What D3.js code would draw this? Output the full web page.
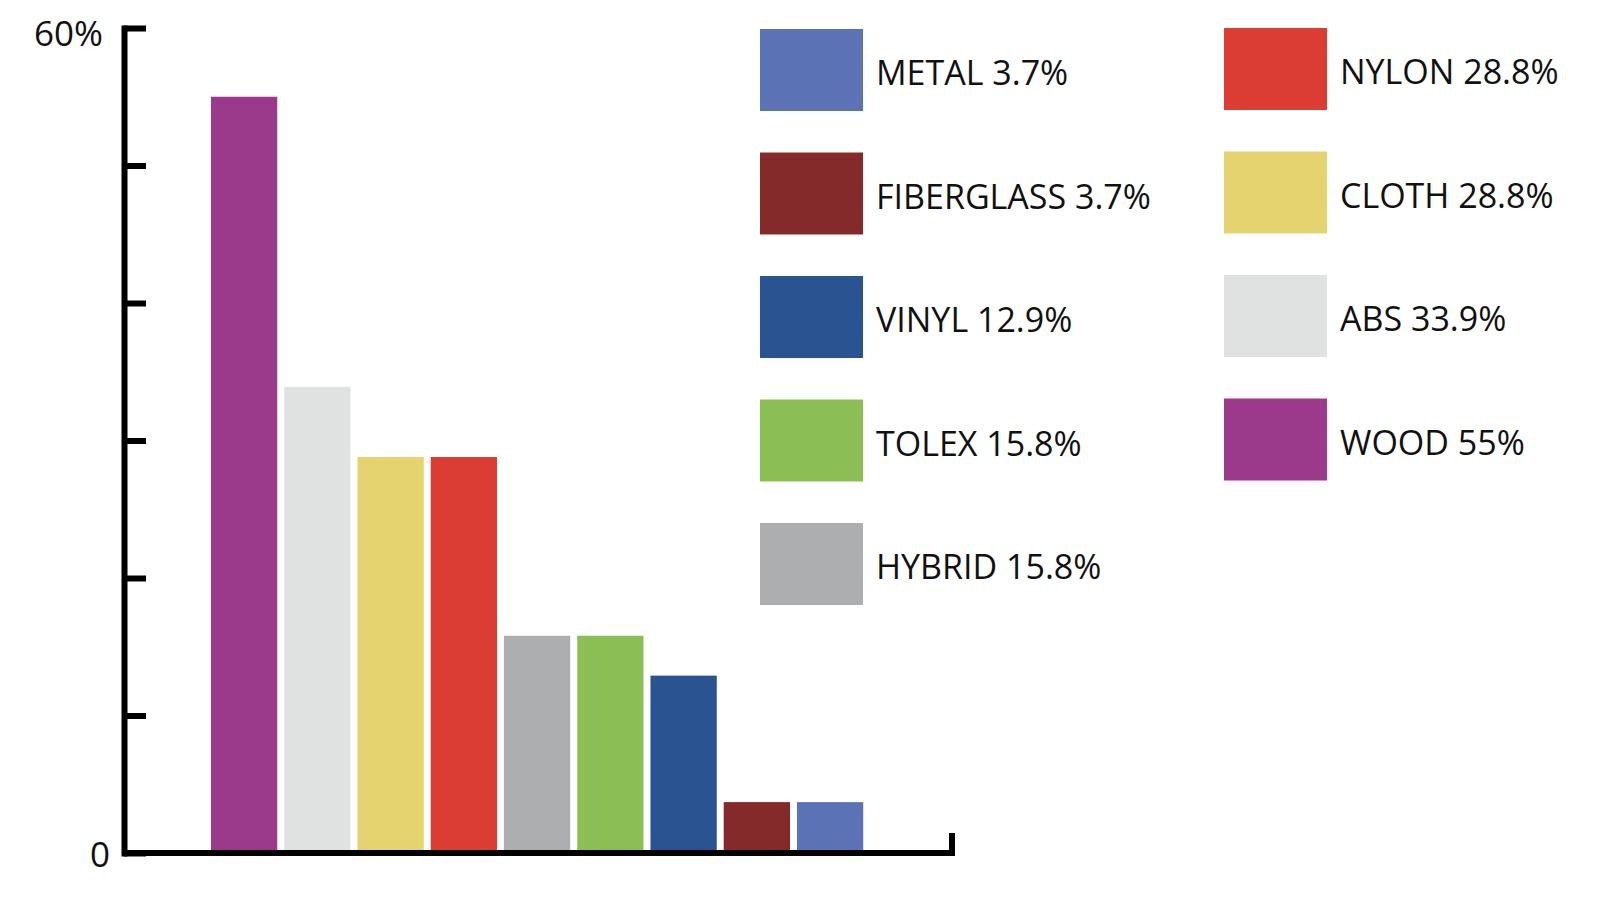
<!DOCTYPE html>
<html>
<head>
<meta charset="utf-8">
<script src="https://cdn.jsdelivr.net/npm/d3@7"></script>
<style>
  body { margin: 0; background: #fff; }
  text { font-family: "Open Sans", "Noto Sans", sans-serif; fill: #111; }
</style>
</head>
<body>
<div id="chart"></div>
<script>
// bar data, sorted as drawn (largest first)
var materials = ["WOOD", "ABS", "CLOTH", "NYLON", "HYBRID", "TOLEX", "VINYL", "FIBERGLASS", "METAL"]
var shares = [55, 33.9, 28.8, 28.8, 15.8, 15.8, 12.9, 3.7, 3.7]
var shareLabels = ["55%", "33.9%", "28.8%", "28.8%", "15.8%", "15.8%", "12.9%", "3.7%", "3.7%"]
var colors = ["#9b3a8b", "#e0e1e1", "#e4d36e", "#db3d32", "#adaeb0", "#8bbf56", "#295391", "#852a2a", "#5b73b4"]

// legend order: two columns, smallest first
var legendLeft = ["METAL", "FIBERGLASS", "VINYL", "TOLEX", "HYBRID"]
var legendRight = ["NYLON", "CLOTH", "ABS", "WOOD"]

var yTicks = [0, 10, 20, 30, 40, 50, 60]
var yTickLabels = { 0: "0", 60: "60%" }

const W = 1600, H = 900

var svg = d3.select('#chart').append('svg')
    .attr('width', W)
    .attr('height', H)

const axisX = 124, axisEnd = 952

const y = d3.scaleLinear().domain([0, 60]).range([853, 28])
const x = d3.scaleBand().domain(materials).range([204, 870.2]).padding(0.095)

// bars
svg.append('g').selectAll('rect')
    .data(materials)
    .enter()
    .append('rect')
    .attr('x', d => x(d))
    .attr('width', x.bandwidth())
    .attr('y', (d, i) => y(shares[i]))
    .attr('height', (d, i) => y(0) - y(shares[i]))
    .attr('fill', (d, i) => colors[i])

// left axis with inward ticks
var yAxis = svg.append('g')
    .attr('transform', `translate(${axisX},0)`)
    .call(d3.axisLeft(y).tickValues(yTicks).tickSizeInner(-22).tickSizeOuter(0)
        .tickPadding(17).tickFormat(d => yTickLabels[d] || ''))

yAxis.select('.domain').attr('stroke', '#000').attr('stroke-width', 6).attr('stroke-linecap', 'square')
yAxis.selectAll('.tick line').attr('stroke', '#000').attr('stroke-width', 6)
yAxis.selectAll('.tick text')
    .attr('font-size', 35)
    .attr('font-family', '"Open Sans", sans-serif')
    .attr('fill', '#111')
    .attr('dy', d => d === 0 ? '13px' : '17px')
    .attr('x', d => d === 0 ? -14 : -21)

// baseline and right end tick
var base = d3.path()
base.moveTo(axisX, y(0))
base.lineTo(axisEnd, y(0))
base.lineTo(axisEnd, y(0) - 20)
svg.append('path')
    .attr('d', base.toString())
    .attr('fill', 'none')
    .attr('stroke', '#000')
    .attr('stroke-width', 6)
    .attr('stroke-linecap', 'butt')
    .attr('stroke-linejoin', 'miter')

// legend
const rowStep = 123.5, swW = 103, swH = 82

function draw_legend(names, x0, y0) {
    var g = svg.append('g').attr('transform', `translate(${x0},${y0})`)
    var rows = g.selectAll('g')
        .data(names)
        .enter()
        .append('g')
        .attr('transform', (d, i) => `translate(0,${i * rowStep})`)
    rows.append('rect')
        .attr('width', swW)
        .attr('height', swH)
        .attr('fill', d => colors[materials.indexOf(d)])
    rows.append('text')
        .attr('x', swW + 13)
        .attr('y', 56)
        .attr('font-size', 34)
        .text(d => `${d} ${shareLabels[materials.indexOf(d)]}`)
}

draw_legend(legendLeft, 760, 29)
draw_legend(legendRight, 1224, 28)
</script>
</body>
</html>
